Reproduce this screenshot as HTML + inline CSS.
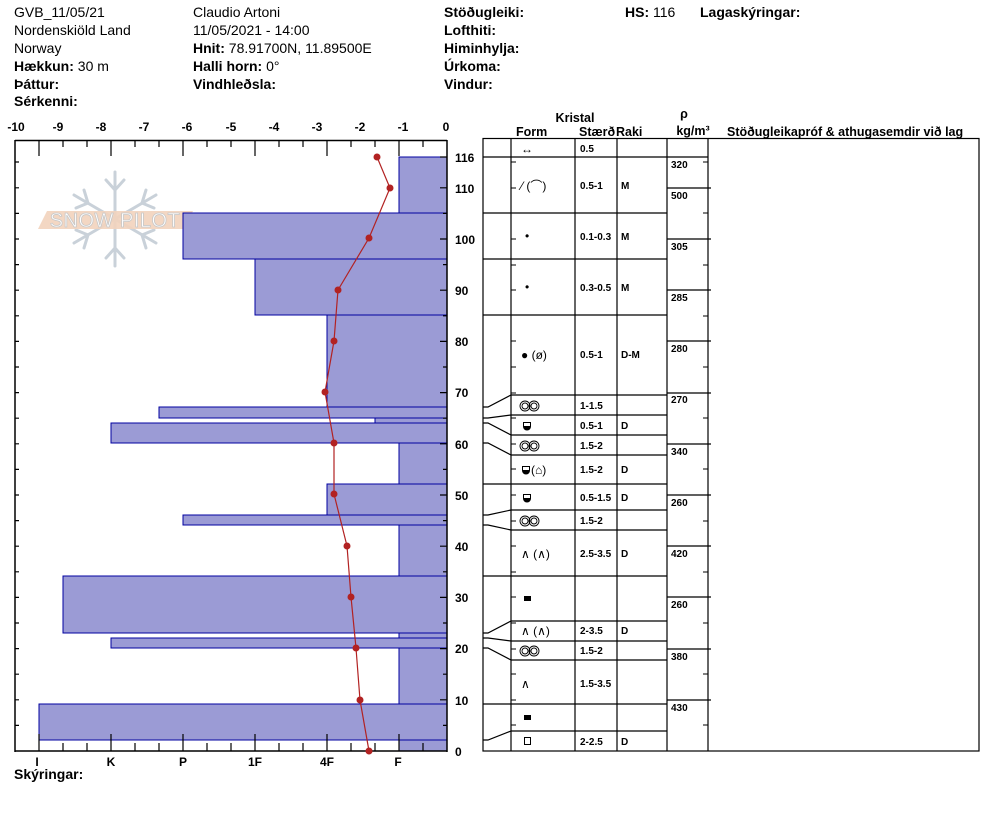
<!DOCTYPE html>
<html><head><meta charset="utf-8"><style>
body{margin:0;background:#fff;}
svg{display:block;font-family:"Liberation Sans",Arial,sans-serif;}
.h{font-size:14px;fill:#000}
.b{font-weight:bold}
.t{font-size:10px;font-weight:bold}
.ax{font-size:12px;font-weight:bold}
</style></head><body>
<svg width="994" height="840" viewBox="0 0 994 840" xmlns="http://www.w3.org/2000/svg">
<defs>
<g id="rr"><circle cx="0" cy="0" r="5" fill="none" stroke="#000" stroke-width="0.9"/><circle cx="0" cy="0" r="3" fill="none" stroke="#000" stroke-width="0.9"/><circle cx="9" cy="0" r="5" fill="none" stroke="#000" stroke-width="0.9"/><circle cx="9" cy="0" r="3" fill="none" stroke="#000" stroke-width="0.9"/></g>
<g id="fc"><path d="M-3.5 -3.5H3.5V0.5A3.5 3.5 0 0 1 -3.5 0.5Z" fill="none" stroke="#000" stroke-width="1"/><path d="M-3.5 0H3.5V0.5A3.5 3.5 0 0 1 -3.5 0.5Z" fill="#000"/></g>
</defs>
<!-- header -->
<g class="h">
<text x="14" y="17">GVB_11/05/21</text>
<text x="14" y="35">Nordenskiöld Land</text>
<text x="14" y="53">Norway</text>
<text x="14" y="71"><tspan class="b">Hækkun:</tspan> 30 m</text>
<text x="14" y="89" class="b">Þáttur:</text>
<text x="14" y="106" class="b">Sérkenni:</text>
<text x="193" y="17">Claudio Artoni</text>
<text x="193" y="35">11/05/2021 - 14:00</text>
<text x="193" y="53"><tspan class="b">Hnit:</tspan> 78.91700N, 11.89500E</text>
<text x="193" y="71"><tspan class="b">Halli horn:</tspan> 0°</text>
<text x="193" y="89" class="b">Vindhleðsla:</text>
<text x="444" y="17" class="b">Stöðugleiki:</text>
<text x="444" y="35" class="b">Lofthiti:</text>
<text x="444" y="53" class="b">Himinhylja:</text>
<text x="444" y="71" class="b">Úrkoma:</text>
<text x="444" y="89" class="b">Vindur:</text>
<text x="625" y="17"><tspan class="b">HS:</tspan> 116</text>
<text x="700" y="17" class="b">Lagaskýringar:</text>
</g>

<!-- watermark -->
<g stroke="#c9d1d9" stroke-width="3" fill="none" stroke-linecap="round">
<line x1="115" y1="172" x2="115" y2="266"/>
<line x1="74" y1="195" x2="156" y2="243"/>
<line x1="74" y1="243" x2="156" y2="195"/>
<path d="M106 180 L115 190 L124 180 M106 258 L115 248 L124 258 M76 208 L88 203 L84 190 M154 230 L142 235 L146 248 M76 230 L88 235 L84 248 M154 208 L142 203 L146 190"/>
</g>
<polygon points="47,211 193,211 184,229 38,229" fill="#f2d3bc" opacity="0.9"/>
<text x="115" y="227" text-anchor="middle" font-size="20" fill="#fff" stroke="#c8c8c8" stroke-width="0.8" letter-spacing="0.5">SNOW PILOT</text>

<!-- bars -->
<g fill="#9b9bd5" stroke="#0000a0" stroke-width="1">
<rect x="399" y="157" width="48" height="56"/>
<rect x="183" y="213" width="264" height="46"/>
<rect x="255" y="259" width="192" height="56"/>
<rect x="327" y="315" width="120" height="92"/>
<rect x="159" y="407" width="288" height="11"/>
<rect x="375" y="418" width="72" height="5"/>
<rect x="111" y="423" width="336" height="20"/>
<rect x="399" y="443" width="48" height="41"/>
<rect x="327" y="484" width="120" height="31"/>
<rect x="183" y="515" width="264" height="10"/>
<rect x="399" y="525" width="48" height="51"/>
<rect x="63" y="576" width="384" height="57"/>
<rect x="399" y="633" width="48" height="5"/>
<rect x="111" y="638" width="336" height="10"/>
<rect x="399" y="648" width="48" height="56"/>
<rect x="39" y="704" width="408" height="36"/>
<rect x="399" y="740" width="48" height="11"/>
</g>

<!-- axes -->
<g stroke="#000" stroke-width="1.5" fill="none">
<line x1="15" y1="140.5" x2="447" y2="140.5"/>
<line x1="15" y1="751" x2="447" y2="751"/>
<line x1="15" y1="140" x2="15" y2="752"/>
<line x1="447" y1="140" x2="447" y2="752"/>
</g>
<g stroke="#000" stroke-width="1.2">
<path d="M39 140V156M111 140V156M183 140V156M255 140V156M327 140V156M399 140V156
M63 140V147M87 140V147M135 140V147M159 140V147M207 140V147M231 140V147M279 140V147M303 140V147M351 140V147M375 140V147M423 140V147
M39 751V734M111 751V734M183 751V734M255 751V734M327 751V734M399 751V734
M63 751V743M87 751V743M135 751V743M159 751V743M207 751V743M231 751V743M279 751V743M303 751V743M351 751V743M375 751V743M423 751V743
M15 162H19M15 187.8H19M15 213.4H19M15 239H19M15 264.6H19M15 290.2H19M15 315.8H19M15 341.4H19M15 367H19M15 392.6H19M15 418.2H19M15 443.8H19M15 469.4H19M15 495H19M15 520.6H19M15 546.2H19M15 571.8H19M15 597.4H19M15 623H19M15 648.6H19M15 674.2H19M15 699.8H19M15 725.4H19
M440 157H447M440 187.8H447M443 213.4H447M440 239H447M443 264.6H447M440 290.2H447M443 315.8H447M440 341.4H447M443 367H447M440 392.6H447M443 418.2H447M440 443.8H447M443 469.4H447M440 495H447M443 520.6H447M440 546.2H447M443 571.8H447M440 597.4H447M443 623H447M440 648.6H447M443 674.2H447M440 699.8H447M443 725.4H447"/>
</g>
<g class="ax" text-anchor="middle">
<text x="16" y="131">-10</text><text x="58" y="131">-9</text><text x="101" y="131">-8</text><text x="144" y="131">-7</text><text x="187" y="131">-6</text><text x="231" y="131">-5</text><text x="274" y="131">-4</text><text x="317" y="131">-3</text><text x="360" y="131">-2</text><text x="403" y="131">-1</text><text x="446" y="131">0</text>
<text x="37" y="766">I</text><text x="111" y="766">K</text><text x="183" y="766">P</text><text x="255" y="766">1F</text><text x="327" y="766">4F</text><text x="398" y="766">F</text>
</g>
<g class="ax">
<text x="455" y="162">116</text><text x="455" y="193">110</text><text x="455" y="244">100</text><text x="455" y="295">90</text><text x="455" y="346">80</text><text x="455" y="397">70</text><text x="455" y="449">60</text><text x="455" y="500">50</text><text x="455" y="551">40</text><text x="455" y="602">30</text><text x="455" y="653">20</text><text x="455" y="705">10</text><text x="455" y="756">0</text>
</g>
<text x="14" y="779" class="h b">Skýringar:</text>

<!-- temperature -->
<polyline fill="none" stroke="#b22222" stroke-width="1.2" points="377,157 390,188 369,238 338,290 334,341 325,392 334,443 334,494 347,546 351,597 356,648 360,700 369,751"/>
<g fill="#b22222">
<circle cx="377" cy="157" r="3.5"/><circle cx="390" cy="188" r="3.5"/><circle cx="369" cy="238" r="3.5"/><circle cx="338" cy="290" r="3.5"/><circle cx="334" cy="341" r="3.5"/><circle cx="325" cy="392" r="3.5"/><circle cx="334" cy="443" r="3.5"/><circle cx="334" cy="494" r="3.5"/><circle cx="347" cy="546" r="3.5"/><circle cx="351" cy="597" r="3.5"/><circle cx="356" cy="648" r="3.5"/><circle cx="360" cy="700" r="3.5"/><circle cx="369" cy="751" r="3.5"/>
</g>

<!-- table header -->
<g class="b" font-size="12.5">
<text x="575" y="122" text-anchor="middle">Kristal</text>
<text x="516" y="136">Form</text>
<text x="579" y="136">Stærð</text>
<text x="616" y="136">Raki</text>
<text x="684" y="118" text-anchor="middle">ρ</text>
<text x="693" y="135" text-anchor="middle">kg/m³</text>
<text x="727" y="136">Stöðugleikapróf &amp; athugasemdir við lag</text>
</g>

<!-- table -->
<g stroke="#000" stroke-width="1.2" fill="none">
<rect x="483" y="138.5" width="496" height="612.5"/>
<path d="M511 138V751M575 138V751M617 138V751M667 138V751M708 138V751"/>
<path d="M483 157H708M483 213H667M483 259H667M483 315H667M483 484H667M483 576H667M483 704H667
M511 395H667M511 415H667M511 435H667M511 455H667M511 510H667M511 530H667M511 621H667M511 641H667M511 660H667M511 731H667
M483 407H488L511 395M483 418H488L511 415M483 423H488L511 435M483 443H488L511 455M483 515H488L511 510M483 525H488L511 530M483 633H488L511 621M483 638H488L511 641M483 648H488L511 660M483 740H488L511 731
M667 188H711M667 239H711M667 290H711M667 341H711M667 393H711M667 444H711M667 495H711M667 546H711M667 597H711M667 649H711M667 700H711"/>
<path stroke-width="1" d="M511 162H516M511 188H516M511 239H516M511 265H516M511 290H516M511 341H516M511 367H516M511 393H516M511 418H516M511 444H516M511 469H516M511 495H516M511 521H516M511 546H516M511 572H516M511 597H516M511 623H516M511 649H516M511 674H516M511 700H516M511 725H516
M703 162H708M703 213H708M703 265H708M703 316H708M703 367H708M703 418H708M703 469H708M703 521H708M703 572H708M703 623H708M703 674H708M703 725H708"/>
</g>
<g class="t">
<text x="580" y="152">0.5</text>
<text x="580" y="189">0.5-1</text><text x="621" y="189">M</text>
<text x="580" y="240">0.1-0.3</text><text x="621" y="240">M</text>
<text x="580" y="291">0.3-0.5</text><text x="621" y="291">M</text>
<text x="580" y="358">0.5-1</text><text x="621" y="358">D-M</text>
<text x="580" y="409">1-1.5</text>
<text x="580" y="429">0.5-1</text><text x="621" y="429">D</text>
<text x="580" y="449">1.5-2</text>
<text x="580" y="473">1.5-2</text><text x="621" y="473">D</text>
<text x="580" y="501">0.5-1.5</text><text x="621" y="501">D</text>
<text x="580" y="524">1.5-2</text>
<text x="580" y="557">2.5-3.5</text><text x="621" y="557">D</text>
<text x="580" y="634">2-3.5</text><text x="621" y="634">D</text>
<text x="580" y="654">1.5-2</text>
<text x="580" y="687">1.5-3.5</text>
<text x="580" y="745">2-2.5</text><text x="621" y="745">D</text>
<text x="671" y="168">320</text><text x="671" y="199">500</text><text x="671" y="250">305</text><text x="671" y="301">285</text><text x="671" y="352">280</text><text x="671" y="403">270</text><text x="671" y="455">340</text><text x="671" y="506">260</text><text x="671" y="557">420</text><text x="671" y="608">260</text><text x="671" y="660">380</text><text x="671" y="711">430</text>
</g>
<!-- form symbols -->
<g font-size="12" fill="#000">
<text x="521" y="153">↔</text>
<text x="521" y="190">⁄ (⌒)</text>
<text x="525" y="240">•</text>
<text x="525" y="291">•</text>
<text x="521" y="359">● (ø)</text>
<text x="531" y="474">(⌂)</text>
<text x="521" y="558">∧ (∧)</text>
<text x="521" y="635">∧ (∧)</text>
<text x="521" y="688">∧</text>
</g>
<use href="#rr" x="525" y="406"/>
<use href="#rr" x="525" y="446"/>
<use href="#rr" x="525" y="521"/>
<use href="#rr" x="525" y="651"/>
<use href="#fc" x="527" y="426"/>
<use href="#fc" x="526" y="470"/>
<use href="#fc" x="527" y="498"/>
<rect x="524" y="596" width="7" height="5" fill="#000"/>
<rect x="524" y="715" width="7" height="5" fill="#000"/>
<rect x="524.5" y="737.5" width="6" height="7" fill="none" stroke="#000" stroke-width="1"/>
</svg>
</body></html>
